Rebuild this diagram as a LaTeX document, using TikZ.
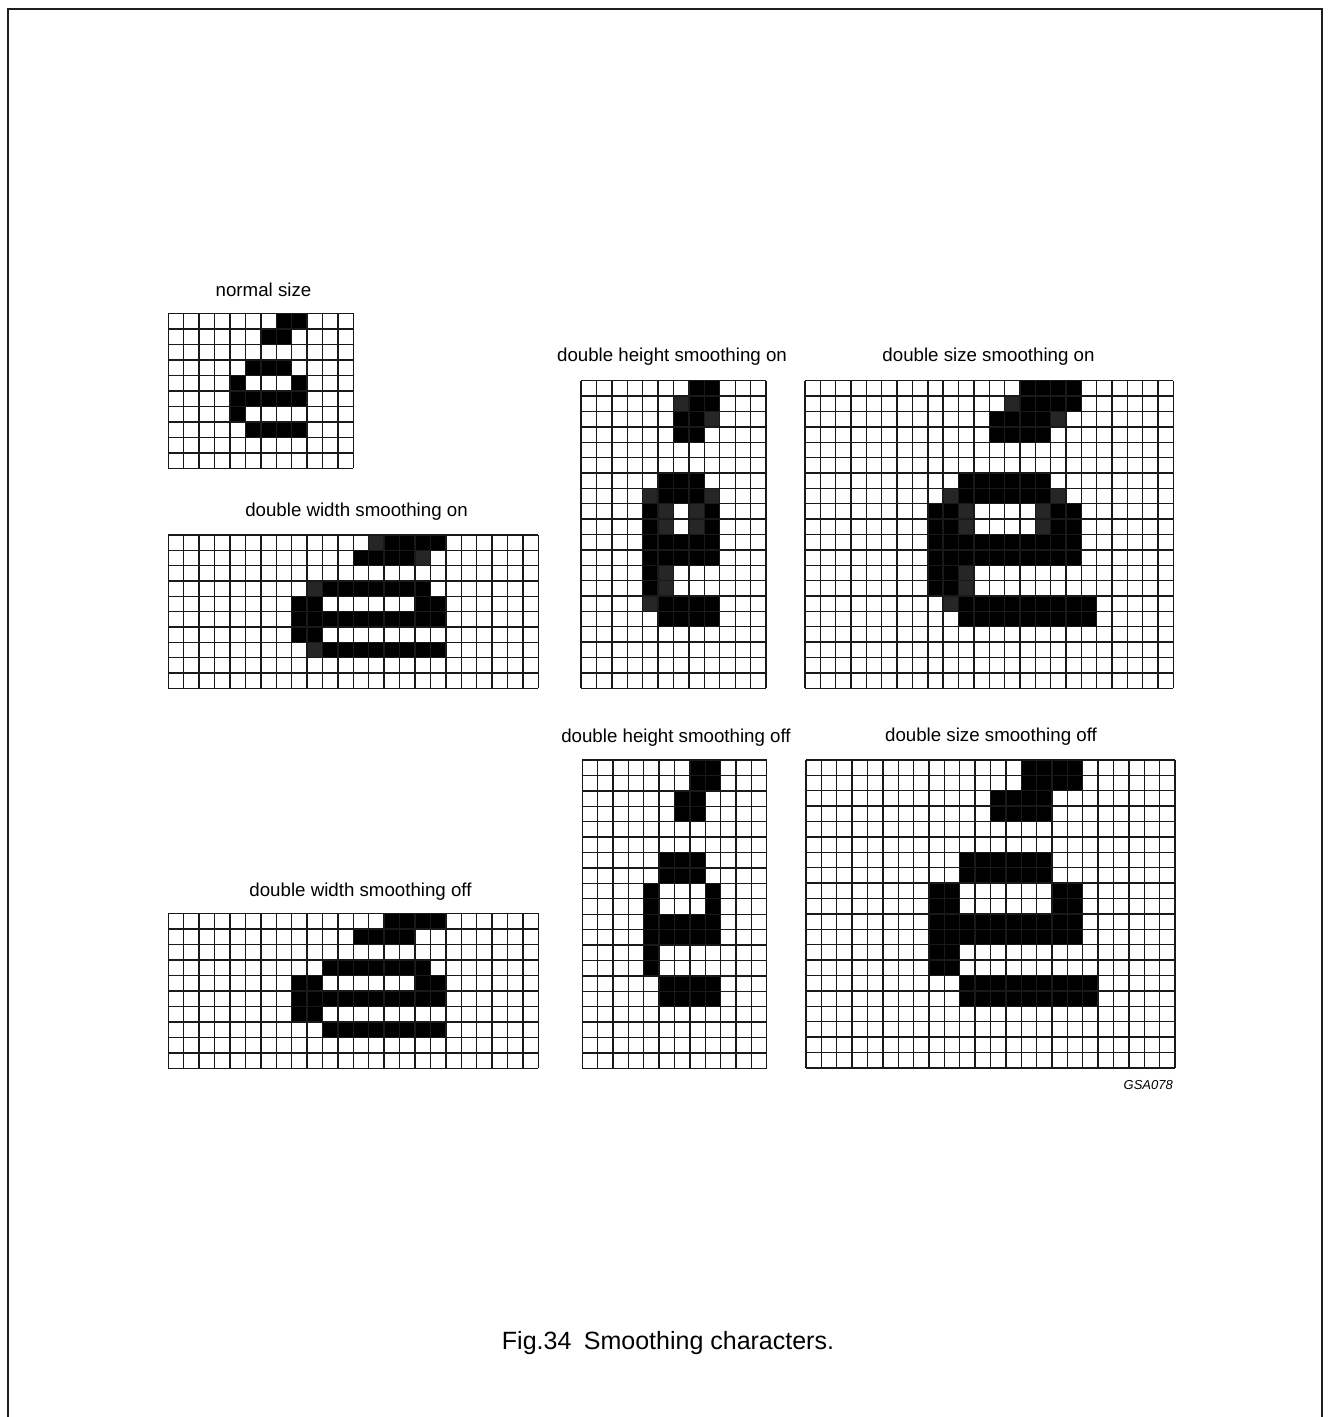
\documentclass[tikz,border=0pt]{standalone}
\usepackage{fontspec}
\setmainfont{Liberation Sans}
\tikzset{
  gridline/.style={line width=1.4pt, black!90},
  ink/.style={fill=black},
  shd/.style={fill=black!85},
  lbl/.style={font=\fontsize{18.7}{22}\selectfont, inner sep=0pt, anchor=base},
  capt/.style={font=\fontsize{25}{29}\selectfont, inner sep=0pt, anchor=base},
  code/.style={font=\fontsize{13}{15}\selectfont\itshape, inner sep=0pt, anchor=base east},
  frame/.style={line width=2pt, black!88}
}
\newcommand\pxrun[3]{\fill[ink] (#2,#1) rectangle (#3+1,#1+1);}
\newcommand\pxgray[2]{\fill[shd] (#2,#1) rectangle (#2+1,#1+1);}
\newcommand\pixgrid[7]{%
  \begin{scope}[shift={(#1,#2)},x=#3pt,y=-#4pt]
    #7
    \foreach \i in {0,...,#5} \draw[gridline] (\i,0) -- (\i,#6);
    \foreach \j in {0,...,#6} \draw[gridline] (0,\j) -- (#5,\j);
  \end{scope}}
\begin{document}
\begin{tikzpicture}[x=1pt,y=-1pt]
\useasboundingbox (0,0) rectangle (1329,1417);
\fill[white] (0,0) rectangle (1329,1417);
\draw[frame] (7.5,1417) -- (7.5,8.5) -- (1321.5,8.5) -- (1321.5,1417);

% normal size
\pixgrid{168.3}{313.3}{15.42}{15.5}{12}{10}{%
  \pxrun{0}{7}{8} \pxrun{1}{6}{7} \pxrun{3}{5}{7}
  \pxrun{4}{4}{4} \pxrun{4}{8}{8} \pxrun{5}{4}{8}
  \pxrun{6}{4}{4} \pxrun{7}{5}{8}}

% double width smoothing on
\pixgrid{168.3}{535}{15.42}{15.33}{24}{10}{%
  \pxgray{0}{13} \pxrun{0}{14}{17}
  \pxrun{1}{12}{15} \pxgray{1}{16}
  \pxgray{3}{9} \pxrun{3}{10}{16}
  \pxrun{4}{8}{9} \pxrun{4}{16}{17}
  \pxrun{5}{8}{17}
  \pxrun{6}{8}{9}
  \pxgray{7}{9} \pxrun{7}{10}{17}}

% double width smoothing off
\pixgrid{168.3}{913.3}{15.42}{15.5}{24}{10}{%
  \pxrun{0}{14}{17}
  \pxrun{1}{12}{15}
  \pxrun{3}{10}{16}
  \pxrun{4}{8}{9} \pxrun{4}{16}{17}
  \pxrun{5}{8}{17}
  \pxrun{6}{8}{9}
  \pxrun{7}{10}{17}}

% double height smoothing on
\pixgrid{581}{380.7}{15.42}{15.38}{12}{20}{%
  \pxrun{0}{7}{8}
  \pxgray{1}{6} \pxrun{1}{7}{8}
  \pxrun{2}{6}{7} \pxgray{2}{8}
  \pxrun{3}{6}{7}
  \pxrun{6}{5}{7}
  \pxgray{7}{4} \pxrun{7}{5}{7} \pxgray{7}{8}
  \pxrun{8}{4}{4} \pxgray{8}{5} \pxgray{8}{7} \pxrun{8}{8}{8}
  \pxrun{9}{4}{4} \pxgray{9}{5} \pxgray{9}{7} \pxrun{9}{8}{8}
  \pxrun{10}{4}{8} \pxrun{11}{4}{8}
  \pxrun{12}{4}{4} \pxgray{12}{5}
  \pxrun{13}{4}{4} \pxgray{13}{5}
  \pxgray{14}{4} \pxrun{14}{5}{8}
  \pxrun{15}{5}{8}}

% double height smoothing off
\pixgrid{582.3}{760}{15.37}{15.42}{12}{20}{%
  \pxrun{0}{7}{8} \pxrun{1}{7}{8}
  \pxrun{2}{6}{7} \pxrun{3}{6}{7}
  \pxrun{6}{5}{7} \pxrun{7}{5}{7}
  \pxrun{8}{4}{4} \pxrun{8}{8}{8} \pxrun{9}{4}{4} \pxrun{9}{8}{8}
  \pxrun{10}{4}{8} \pxrun{11}{4}{8}
  \pxrun{12}{4}{4} \pxrun{13}{4}{4}
  \pxrun{14}{5}{8} \pxrun{15}{5}{8}}

% double size smoothing on
\pixgrid{805}{380.7}{15.35}{15.38}{24}{20}{%
  \pxrun{0}{14}{17}
  \pxgray{1}{13} \pxrun{1}{14}{17}
  \pxrun{2}{12}{15} \pxgray{2}{16}
  \pxrun{3}{12}{15}
  \pxrun{6}{10}{15}
  \pxgray{7}{9} \pxrun{7}{10}{15} \pxgray{7}{16}
  \pxrun{8}{8}{9} \pxgray{8}{10} \pxgray{8}{15} \pxrun{8}{16}{17}
  \pxrun{9}{8}{9} \pxgray{9}{10} \pxgray{9}{15} \pxrun{9}{16}{17}
  \pxrun{10}{8}{17} \pxrun{11}{8}{17}
  \pxrun{12}{8}{9} \pxgray{12}{10}
  \pxrun{13}{8}{9} \pxgray{13}{10}
  \pxgray{14}{9} \pxrun{14}{10}{18}
  \pxrun{15}{10}{18}}

% double size smoothing off
\pixgrid{806}{760}{15.375}{15.39}{24}{20}{%
  \pxrun{0}{14}{17} \pxrun{1}{14}{17}
  \pxrun{2}{12}{15} \pxrun{3}{12}{15}
  \pxrun{6}{10}{15} \pxrun{7}{10}{15}
  \pxrun{8}{8}{9} \pxrun{8}{16}{17} \pxrun{9}{8}{9} \pxrun{9}{16}{17}
  \pxrun{10}{8}{17} \pxrun{11}{8}{17}
  \pxrun{12}{8}{9} \pxrun{13}{8}{9}
  \pxrun{14}{10}{18} \pxrun{15}{10}{18}}

% labels
\node[lbl] (lnorm) at (263.5,296) {normal size};
\node[lbl] (ldwon) at (356.5,516) {double width smoothing on};
\node[lbl] (ldwoff) at (360.5,896) {double width smoothing off};
\node[lbl] (ldhon) at (672,361) {double height smoothing on};
\node[lbl] (ldhoff) at (676,742) {double height smoothing off};
\node[lbl] (ldson) at (988.5,361) {double size smoothing on};
\node[lbl] (ldsoff) at (991,741) {double size smoothing off};
\node[code] (gsa) at (1173,1089) {GSA078};
\node[capt] (cap) at (668,1349) {Fig.34\enspace Smoothing characters.};
\end{tikzpicture}
\end{document}
